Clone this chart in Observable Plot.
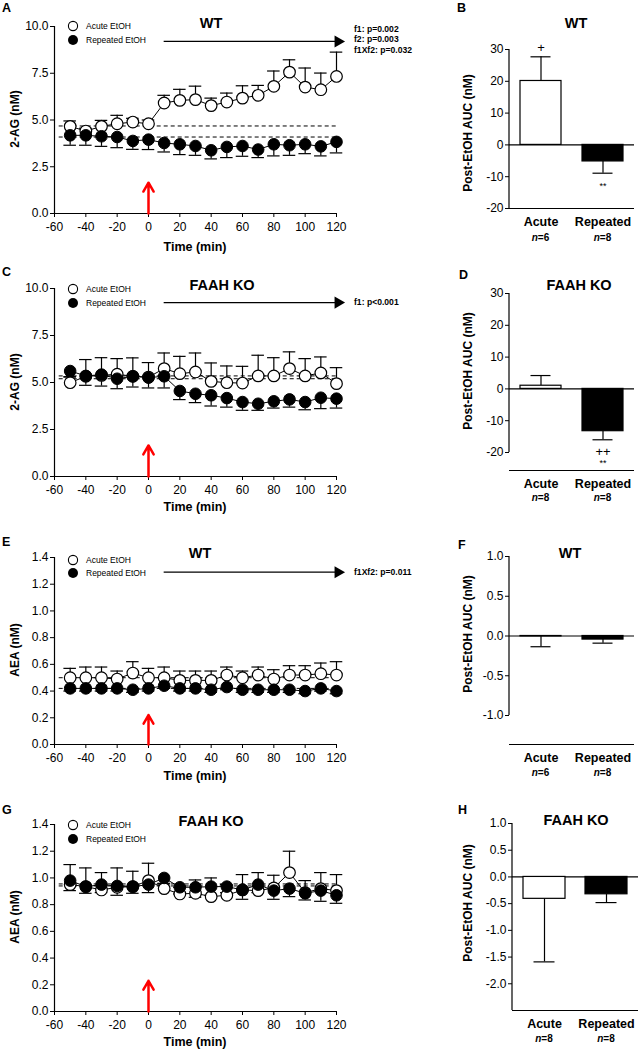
<!DOCTYPE html>
<html><head><meta charset="utf-8">
<script src="https://cdn.jsdelivr.net/npm/d3@7"></script>
<script src="https://cdn.jsdelivr.net/npm/@observablehq/plot@0.6"></script>
<style>
body{margin:0;background:#fff;}
#root{position:relative;width:639px;height:1050px;overflow:hidden;background:#fff;}
</style></head><body><div id="root"></div>
<script>
// ---------- data ----------
const times = [-50,-40,-30,-20,-10,0,10,20,30,40,50,60,70,80,90,100,110,120];
const timeTicks = [-60,-40,-20,0,20,40,60,80,100,120];
const timeDomain = [-60,120];
const ticks2AG = [0,2.5,5,7.5,10];
const ticksAEA = [0,0.2,0.4,0.6,0.8,1.0,1.2,1.4];
const ticksAucLarge = [-20,-10,0,10,20,30];
const ticksAucF = [-1,-0.5,0,0.5,1];
const ticksAucH = [-2,-1.5,-1,-0.5,0,0.5,1];
const cueTimes = [0];
const periodSpan = [10,121];

// A: WT 2-AG
const acuteA = [4.66,4.41,4.66,4.80,4.89,4.80,5.91,6.05,6.09,5.77,5.96,6.17,6.32,6.80,7.56,6.76,6.62,7.33];
const semAcuteA = [0.29,0.15,0.32,0.45,0.2,0.2,0.41,0.59,0.72,0.40,0.48,0.66,0.53,0.82,0.66,1.02,0.89,1.30];
const repA = [4.18,4.18,4.13,4.09,3.88,3.95,3.77,3.70,3.61,3.38,3.56,3.61,3.42,3.70,3.65,3.70,3.59,3.83];
const semRepA = [0.53,0.53,0.54,0.57,0.45,0.53,0.48,0.55,0.50,0.46,0.57,0.55,0.43,0.62,0.54,0.50,0.51,0.59];
const baseA = [4.68,4.09];
// C: FAAH KO 2-AG
const acuteC = [4.99,5.33,5.38,5.44,5.33,5.29,5.74,5.47,5.56,5.06,4.99,4.97,5.35,5.35,5.74,5.35,5.51,4.94];
const semAcuteC = [0.3,0.89,0.94,0.83,0.98,0.77,0.83,0.92,1.01,0.98,0.89,0.89,1.10,0.97,0.89,0.92,0.85,0.85];
const repC = [5.61,5.35,5.42,5.20,5.33,5.26,5.33,4.55,4.40,4.32,4.17,3.96,3.87,4.00,4.10,3.96,4.19,4.14];
const semRepC = [0.3,0.50,0.61,0.53,0.57,0.55,0.62,0.46,0.47,0.57,0.48,0.44,0.35,0.36,0.41,0.41,0.58,0.50];
const baseC = [5.35,5.20];
// E: WT AEA
const acuteE = [0.50,0.50,0.50,0.49,0.535,0.50,0.50,0.48,0.48,0.48,0.52,0.50,0.52,0.49,0.52,0.52,0.53,0.52];
const semAcuteE = [0.07,0.08,0.08,0.06,0.085,0.07,0.08,0.07,0.07,0.07,0.06,0.05,0.06,0.07,0.07,0.07,0.08,0.10];
const repE = [0.42,0.42,0.42,0.42,0.41,0.42,0.44,0.42,0.42,0.41,0.43,0.41,0.41,0.41,0.41,0.40,0.42,0.40];
const semRepE = [0.02,0.02,0.02,0.02,0.02,0.02,0.02,0.02,0.02,0.02,0.02,0.02,0.02,0.02,0.02,0.02,0.02,0.02];
const baseE = [0.50,0.42];
// G: FAAH KO AEA
const acuteG = [0.95,0.935,0.91,0.93,0.935,0.98,0.92,0.88,0.885,0.86,0.87,0.91,0.905,0.925,1.04,0.89,0.92,0.905];
const semAcuteG = [0.15,0.14,0.13,0.145,0.115,0.13,0.04,0.05,0.10,0.14,0.08,0.115,0.135,0.095,0.16,0.09,0.12,0.12];
const repG = [0.98,0.935,0.95,0.94,0.935,0.95,1.0,0.93,0.93,0.935,0.935,0.91,0.95,0.905,0.92,0.885,0.905,0.87];
const semRepG = [0.075,0.05,0.06,0.07,0.05,0.06,0.045,0.05,0.075,0.065,0.045,0.07,0.06,0.065,0.06,0.05,0.08,0.06];
const baseG = [0.955,0.94];

// AUC bars
const groups = ["Acute","Repeated"];
const aucB = [20.1,-5.2], semB = [7.6,3.7], nB = [6,8];
const aucD = [1.0,-13.3], semD = [3.2,2.7], nD = [8,8];
const aucF = [-0.005,-0.045], semF = [0.13,0.045], nF = [6,8];
const aucH = [-0.41,-0.325], semH = [1.18,0.155], nH = [8,8];
const plusB = ["+",""], starB = ["","**"];
const plusD = ["","++"], starD = ["","**"];

// text
const statsA = ["f1: p=0.002","f2: p=0.003","f1Xf2: p=0.032"];
const statsC = ["f1: p<0.001"];
const statsE = ["f1Xf2: p=0.011"];
const legendLabels = ["Acute EtOH","Repeated EtOH"];

// ---------- drawing ----------
const FONT = '"Liberation Sans", Arial, Helvetica, sans-serif';
const root = document.getElementById("root");
const plotStyle = {background:"transparent", fontFamily: FONT, fontSize:"12px", color:"black", overflow:"visible"};
function place(node, left, top){ node.style.position="absolute"; node.style.left=left+"px"; node.style.top=top+"px"; root.appendChild(node); }

function linePanel(p){
  const A = times.map((t,i)=>({t, v:p.acute[i], e:p.acute[i]+p.acuteSem[i]}));
  const R = times.map((t,i)=>({t, v:p.rep[i], e:p.rep[i]-p.repSem[i]}));
  const cap = 4;
  const marks = [
    Plot.ruleX([timeDomain[0]], {stroke:"black", strokeWidth:1.2}),
    Plot.ruleY([p.yDomain[0]], {stroke:"black", strokeWidth:1.2}),
    Plot.axisY({ticks:p.yTicks, tickFormat:d=>d.toFixed(1), tickSize:4, tickPadding:2, label:null}),
    Plot.axisX({ticks:timeTicks, tickFormat:d=>String(d), tickSize:4, tickPadding:5, label:null}),
    Plot.ruleY(p.base, {x1:-57, x2:timeDomain[1], stroke:"black", strokeDasharray:"4,3"}),
    Plot.line(A, {x:"t", y:"v", stroke:"black", strokeWidth:1}),
    Plot.line(R, {x:"t", y:"v", stroke:"black", strokeWidth:1}),
    Plot.ruleX(A, {x:"t", y1:"v", y2:"e", stroke:"black", strokeWidth:1.2}),
    Plot.ruleY(A, {y:"e", x1:d=>d.t-cap, x2:d=>d.t+cap, stroke:"black", strokeWidth:1.2}),
    Plot.ruleX(R, {x:"t", y1:"v", y2:"e", stroke:"black", strokeWidth:1.2}),
    Plot.ruleY(R, {y:"e", x1:d=>d.t-cap, x2:d=>d.t+cap, stroke:"black", strokeWidth:1.2}),
    Plot.arrow(cueTimes, {x1:d=>d, x2:d=>d, y1:p.yDomain[0], y2:p.cueTip, stroke:"red", strokeWidth:2.5, headLength:9})
  ];
  if (p.periodLevel != null) {
    marks.push(
      Plot.ruleY([p.periodLevel], {x1:periodSpan[0], x2:periodSpan[1], stroke:"black", strokeWidth:1.3}),
      Plot.dot([p.periodLevel], {x:periodSpan[1], y:d=>d, symbol:"triangle", rotate:90, r:4.5, fill:"black", stroke:"none"})
    );
  }
  marks.push(
    Plot.dot(A, {x:"t", y:"v", r:5.8, fill:"white", stroke:"black", strokeWidth:1.2}),
    Plot.dot(R, {x:"t", y:"v", r:5.8, fill:"black", stroke:"black", strokeWidth:1})
  );
  const plot = Plot.plot({
    width:350, height:26+p.inner+42, marginLeft:54, marginRight:14, marginTop:26, marginBottom:42,
    x:{domain:timeDomain}, y:{domain:p.yDomain}, style:plotStyle, marks
  });
  place(plot, 0, p.topPx-26);
}

const nLabels = [];
function barPanel(p){
  const rows = groups.map((g,i)=>({g, v:p.auc[i], e:p.auc[i]+Math.sign(p.auc[i])*p.sem[i], plus:p.plus?p.plus[i]:"", star:p.star?p.star[i]:""}));
  const inner = p.bottomPx - p.topPx + p.lineOffset;
  const marks = [
    Plot.ruleY([0], {stroke:"black", strokeWidth:1.2}),
    Plot.ruleY([p.yDomain[0]], {dy:p.lineOffset, stroke:"black", strokeWidth:1.2}),
    Plot.axisY({ticks:p.yTicks, tickFormat:p.fmt, tickSize:4, tickPadding:2, label:null}),
    Plot.axisX({tickSize:0, tickPadding:9, label:null, fontWeight:"bold", fontSize:12.5}),
    Plot.ruleX(rows, {x:"g", y1:"v", y2:"e", stroke:"black", strokeWidth:1.2}),
    Plot.tickY(rows, {x:"g", y:"e", insetLeft:10.5, insetRight:10.5, stroke:"black", strokeWidth:1.2}),
    Plot.barY(rows.filter(d=>d.g==="Acute"), {x:"g", y:"v", fill:"white", stroke:"black", strokeWidth:1.2}),
    Plot.barY(rows.filter(d=>d.g==="Repeated"), {x:"g", y:"v", fill:"black", stroke:"black", strokeWidth:1.2}),
    Plot.text(rows.filter(d=>d.plus), {x:"g", y:"e", text:"plus", dy:p.plusDy, fontSize:13}),
    Plot.text(rows.filter(d=>d.star), {x:"g", y:"e", text:"star", dy:p.starDy, fontSize:9})
  ];
  const plot = Plot.plot({
    width:209, height:10+inner+32, marginLeft:p.ml, marginRight:p.mr, marginTop:10, marginBottom:32,
    x:{domain:groups, paddingInner:p.pi, paddingOuter:p.po},
    y:{domain:p.yDomain, insetBottom:p.lineOffset},
    style:plotStyle, marks
  });
  const ys = plot.scale("y");
  d3.select(plot).append("line")
    .attr("x1",p.ml).attr("x2",p.ml)
    .attr("y1",ys.apply(p.yDomain[1])).attr("y2",ys.apply(p.yDomain[0]))
    .attr("stroke","black").attr("stroke-width",1.2);
  const xs = plot.scale("x");
  groups.forEach((g,i)=>nLabels.push({x:430+xs.apply(g)+xs.bandwidth/2, y:p.nY, n:p.n[i]}));
  place(plot, 430, p.topPx-10);
}

linePanel({topPx:26, inner:187, acute:acuteA, acuteSem:semAcuteA, rep:repA, repSem:semRepA, base:baseA, yDomain:[0,10], yTicks:ticks2AG, cueTip:1.65, periodLevel:9.2});
linePanel({topPx:288, inner:188, acute:acuteC, acuteSem:semAcuteC, rep:repC, repSem:semRepC, base:baseC, yDomain:[0,10], yTicks:ticks2AG, cueTip:1.65, periodLevel:9.25});
linePanel({topPx:557, inner:187, acute:acuteE, acuteSem:semAcuteE, rep:repE, repSem:semRepE, base:baseE, yDomain:[0,1.4], yTicks:ticksAEA, cueTip:0.22, periodLevel:1.29});
linePanel({topPx:824, inner:187, acute:acuteG, acuteSem:semAcuteG, rep:repG, repSem:semRepG, base:baseG, yDomain:[0,1.4], yTicks:ticksAEA, cueTip:0.23, periodLevel:null});

const fmtInt = d=>String(d);
const fmt1 = d=>d.toFixed(1);
barPanel({topPx:49, bottomPx:208, lineOffset:0, auc:aucB, sem:semB, n:nB, yDomain:[-20,30], yTicks:ticksAucLarge, fmt:fmtInt, ml:79, mr:5, pi:0.333, po:0.16, plus:plusB, star:starB, plusDy:-9, starDy:13, nY:237});
barPanel({topPx:293, bottomPx:452, lineOffset:18, auc:aucD, sem:semD, n:nD, yDomain:[-20,30], yTicks:ticksAucLarge, fmt:fmtInt, ml:79, mr:5, pi:0.333, po:0.16, plus:plusD, star:starD, plusDy:12, starDy:23, nY:497});
barPanel({topPx:556, bottomPx:715, lineOffset:29, auc:aucF, sem:semF, n:nF, yDomain:[-1,1], yTicks:ticksAucF, fmt:fmt1, ml:79, mr:5, pi:0.333, po:0.16, nY:772, plusDy:0, starDy:0});
barPanel({topPx:823, bottomPx:1010, lineOffset:0, auc:aucH, sem:semH, n:nH, yDomain:[-2.5,1], yTicks:ticksAucH, fmt:fmt1, ml:82, mr:1, pi:0.328, po:0.172, nY:1038, plusDy:0, starDy:0});

// ---------- overlay annotations ----------
const ov = d3.create("svg").attr("width",639).attr("height",1050)
  .style("position","absolute").style("left","0px").style("top","0px")
  .style("font-family",FONT).style("pointer-events","none");
function text(x,y,str,{size=12,weight="normal",anchor="start",rotate=0}={}){
  const t = ov.append("text").attr("x",x).attr("y",y).attr("dy","0.35em")
    .attr("font-size",size).attr("font-weight",weight).attr("text-anchor",anchor).attr("fill","black").text(str);
  if (rotate) t.attr("transform",`rotate(${rotate},${x},${y})`);
  return t;
}
// panel letters
[["A",2,8],["B",457,8],["C",2,272],["D",459,275],["E",2,542],["F",458,545],["G",2,810],["H",458,810]]
  .forEach(([s,x,y])=>text(x,y,s,{size:12.5,weight:"bold"}));
// titles
[["WT",211,23],["FAAH KO",222,285],["WT",200,553],["FAAH KO",211,821],["WT",576,23],["FAAH KO",579,285],["WT",570,553],["FAAH KO",576,820]]
  .forEach(([s,x,y])=>text(x,y,s,{size:14.5,weight:"bold",anchor:"middle"}));
// legends
[[26,40],[289,303],[560,573],[825,839]].forEach(([y0,y1])=>{
  ov.append("circle").attr("cx",73).attr("cy",y0).attr("r",4.6).attr("fill","white").attr("stroke","black").attr("stroke-width",1.1);
  ov.append("circle").attr("cx",73).attr("cy",y1).attr("r",5).attr("fill","black");
  text(86,y0,legendLabels[0],{size:8.5});
  text(86,y1,legendLabels[1],{size:8.5});
});
// stats
statsA.forEach((s,i)=>text(354,28.7+i*10.7,s,{size:8.6,weight:"bold"}));
statsC.forEach((s,i)=>text(354,302,s,{size:8.6,weight:"bold"}));
statsE.forEach((s,i)=>text(354,572,s,{size:8.6,weight:"bold"}));
// axis titles
[[119,"2-AG (nM)",247],[382,"2-AG (nM)",507],[650,"AEA (nM)",776],[917,"AEA (nM)",1042]].forEach(([yc,s,ty])=>{
  text(15,yc,s,{size:12,weight:"bold",anchor:"middle",rotate:-90});
  text(195,ty,"Time (min)",{size:12.5,weight:"bold",anchor:"middle"});
});
[133,371,634,903].forEach(yc=>text(468,yc,"Post-EtOH AUC (nM)",{size:12,weight:"bold",anchor:"middle",rotate:-90}));
// n labels
nLabels.forEach(d=>{
  const t = ov.append("text").attr("x",d.x).attr("y",d.y).attr("dy","0.35em").attr("font-size",10).attr("font-weight","bold").attr("text-anchor","middle");
  t.append("tspan").attr("font-style","italic").text("n");
  t.append("tspan").text("="+d.n);
});
root.appendChild(ov.node());
</script>
</body></html>
